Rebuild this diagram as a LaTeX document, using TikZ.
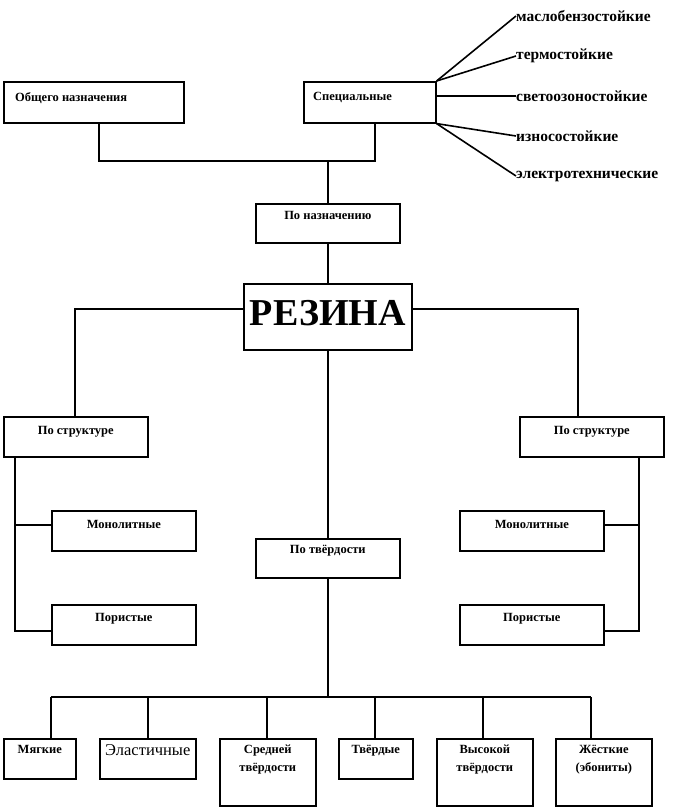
\documentclass[tikz,border=0pt]{standalone}
\usepackage{fontspec}
\setmainfont{Liberation Serif}
\usetikzlibrary{positioning}
\tikzstyle{box} = [draw=black, line width=1.6pt, rectangle, anchor=north west, inner sep=0pt]
\tikzstyle{lbl} = [font=\bfseries\fontsize{12.5}{18}\selectfont, align=center, inner sep=0pt]
\tikzstyle{side} = [font=\bfseries\fontsize{15.5}{17}\selectfont, anchor=west, inner sep=0pt]
\tikzstyle{link} = [line width=1.6pt]

\begin{document}
\begin{tikzpicture}[x=1pt, y=-1pt]
    \useasboundingbox (0,0) rectangle (677,809);
    % top level
    \node [box, minimum width=180pt, minimum height=41pt,
        label={[lbl, anchor=north west, xshift=12pt, yshift=-11pt]north west:Общего назначения}] (obsh) at (3,81) {};
    \node [box, minimum width=132pt, minimum height=41pt,
        label={[lbl, anchor=north west, xshift=10pt, yshift=-11pt]north west:Специальные}] (spec) at (303,81) {};
    \node [side] (s1) at (516,16) {маслобензостойкие};
    \node [side] (s2) at (516,56) {термостойкие};
    \node [side] (s3) at (516,96) {светоозоностойкие};
    \node [side] (s4) at (516,136) {износостойкие};
    \node [side] (s5) at (516,176) {электротехнические};
    \node [box, minimum width=144pt, minimum height=39pt,
        label={[lbl, anchor=north, yshift=-8pt]north:По назначению}] (naz) at (255,203) {};
    \node [box, minimum width=168pt, minimum height=66pt,
        label={[anchor=center, yshift=4pt, inner sep=0pt, font=\bfseries\fontsize{38}{40}\selectfont]center:РЕЗИНА}] (rez) at (243,283) {};
    % structure
    \node [box, minimum width=144pt, minimum height=40pt,
        label={[lbl, anchor=north, yshift=-10pt]north:По структуре}] (strL) at (3,416) {};
    \node [box, minimum width=144pt, minimum height=40pt,
        label={[lbl, anchor=north, yshift=-10pt]north:По структуре}] (strR) at (519,416) {};
    \node [box, minimum width=144pt, minimum height=40pt,
        label={[lbl, anchor=north, yshift=-10pt]north:Монолитные}] (monL) at (51,510) {};
    \node [box, minimum width=144pt, minimum height=40pt,
        label={[lbl, anchor=north, yshift=-9pt]north:Пористые}] (porL) at (51,604) {};
    \node [box, minimum width=144pt, minimum height=40pt,
        label={[lbl, anchor=north, yshift=-10pt]north:Монолитные}] (monR) at (459,510) {};
    \node [box, minimum width=144pt, minimum height=40pt,
        label={[lbl, anchor=north, yshift=-9pt]north:Пористые}] (porR) at (459,604) {};
    % hardness
    \node [box, minimum width=144pt, minimum height=39pt,
        label={[lbl, anchor=north, yshift=-7pt]north:По твёрдости}] (tv) at (255,538) {};
    \node [box, minimum width=72pt, minimum height=40pt,
        label={[lbl, anchor=north, yshift=-7pt]north:Мягкие}] (mjag) at (3,738) {};
    \node [box, minimum width=96pt, minimum height=40pt,
        label={[anchor=north, yshift=-6pt, inner sep=0pt, font=\fontsize{16.5}{18}\selectfont]north:Эластичные}] (elast) at (99,738) {};
    \node [box, minimum width=96pt, minimum height=67pt,
        label={[lbl, anchor=north, yshift=-7pt]north:Средней\\твёрдости}] (sred) at (219,738) {};
    \node [box, minimum width=74pt, minimum height=40pt,
        label={[lbl, anchor=north, yshift=-7pt]north:Твёрдые}] (tverd) at (338,738) {};
    \node [box, minimum width=96pt, minimum height=67pt,
        label={[lbl, anchor=north, yshift=-7pt]north:Высокой\\твёрдости}] (vys) at (436,738) {};
    \node [box, minimum width=96pt, minimum height=67pt,
        label={[lbl, anchor=north, yshift=-7pt]north:Жёсткие\\(эбониты)}] (zhest) at (555,738) {};

    % joints
    \coordinate (j1) at (99,161);
    \coordinate (j2) at (375,161);
    \coordinate (kl) at (75,309);
    \coordinate (kr) at (578,309);
    \coordinate (bl) at (15,631);
    \coordinate (br) at (639,631);
    \coordinate (bus) at (327,697);

    % connectors
    \draw [link] (obsh.south -| j1) -- (j1) -- (j2) -- (spec.south -| j2);
    \draw [link] (naz.north) -- (naz.north |- j1);
    \draw [link] (spec.north east) -- (s1.west);
    \draw [link] (spec.north east) -- (s2.west);
    \draw [link] (spec.east |- s3.west) -- (s3.west);
    \draw [link] (spec.south east) -- (s4.west);
    \draw [link] (spec.south east) -- (s5.west);
    \draw [link] (naz.south) -- (rez.north);
    \draw [link] (rez.west |- kl) -- (kl) -- (strL.north -| kl);
    \draw [link] (rez.east |- kr) -- (kr) -- (strR.north -| kr);
    \draw [link] (strL.south -| bl) -- (bl) -- (porL.west |- bl);
    \draw [link] (15,525) -- (monL.west |- 0,525);
    \draw [link] (strR.south -| br) -- (br) -- (porR.east |- br);
    \draw [link] (639,525) -- (monR.east |- 0,525);
    \draw [link] (rez.south) -- (tv.north);
    \draw [link] (tv.south) -- (tv.south |- bus);
    \draw [link] (51,697) -- (591,697);
    \foreach \n/\x in {mjag/51, elast/148, sred/267, tverd/375, vys/483, zhest/591}
        \draw [link] (\x,697) -- (\n.north -| \x,697);
\end{tikzpicture}
\end{document}
